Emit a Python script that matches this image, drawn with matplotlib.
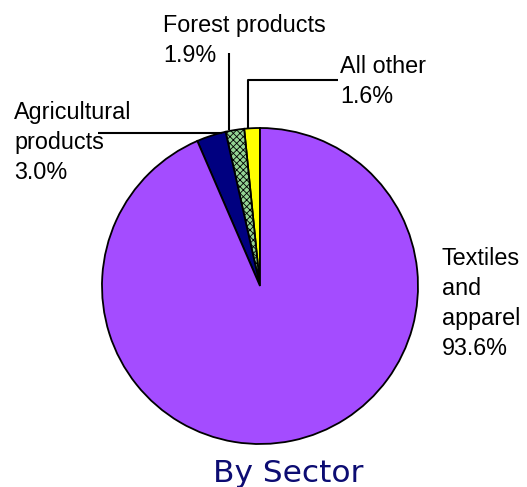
import matplotlib.pyplot as plt

# Sector shares (percent), in drawing order counterclockwise from 12 o'clock
sectors = ['All other', 'Forest products', 'Agricultural products', 'Textiles and apparel']
shares = [1.6, 1.9, 3.0, 93.6]
colors = ['#ffff00', '#94d494', '#000080', '#a44cff']
hatches = [None, 'xxxxx', None, None]

W, H = 527, 487
fig = plt.figure(figsize=(W / 100, H / 100), dpi=100)
ax = fig.add_axes([0, 0, 1, 1])

plt.rcParams['hatch.linewidth'] = 0.6
plt.rcParams['hatch.color'] = '#5f9f5f'

wedges, _ = ax.pie(shares, colors=colors, startangle=90, counterclock=True,
                   center=(260, H - 286), radius=158,
                   wedgeprops=dict(edgecolor='black', linewidth=1.3))
for w, h in zip(wedges, hatches):
    if h:
        w.set_hatch(h)

# pie() sets its own limits, so fix the pixel frame afterwards
ax.set_xlim(0, W)
ax.set_ylim(0, H)
ax.set_aspect('equal')
ax.axis('off')

# leader lines (pixel coords, y measured from the top)
def leader(xs, ys):
    ax.plot(xs, [H - y for y in ys], color='black', lw=1.5, solid_capstyle='butt')

leader([338, 248, 248], [80, 80, 129])
leader([229, 229], [53, 130])
leader([98, 222], [133, 133])

# labels: y is the baseline of the last line
font = dict(family='Liberation Sans', fontsize=16.8, color='black',
            va='baseline', ha='left', linespacing=1.38)
ax.text(163, H - 62, 'Forest products\n1.9%', **font)
ax.text(340, H - 103, 'All other\n1.6%', **font)
ax.text(14, H - 179, 'Agricultural\nproducts\n3.0%', **font)
ax.text(442, H - 355, 'Textiles\nand\napparel\n93.6%', **font)

ax.text(288, H - 482, 'By Sector', family='DejaVu Sans', fontsize=22.5,
        color='#0c0c72', ha='center', va='baseline')

fig.savefig('out.png', dpi=100)
